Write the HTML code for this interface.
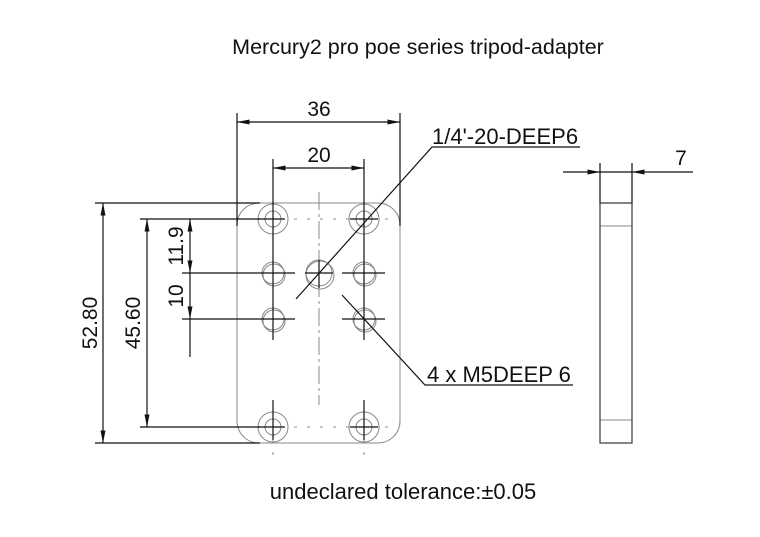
<!DOCTYPE html>
<html><head><style>body{margin:0;background:#fff}svg{display:block}text{font-family:"Liberation Sans",sans-serif;fill:#111}</style></head><body>
<svg width="760" height="537" viewBox="0 0 760 537" xmlns="http://www.w3.org/2000/svg">
<defs>
<marker id="a" viewBox="0 0 10 4" refX="10" refY="2" markerWidth="14" markerHeight="5" markerUnits="userSpaceOnUse" orient="auto-start-reverse"><path d="M0,0L10,2L0,4z" fill="#111"/></marker>
</defs>
<text x="418" y="54" font-size="21.5" text-anchor="middle">Mercury2 pro poe series tripod-adapter</text>
<text x="403" y="499" font-size="22" text-anchor="middle">undeclared tolerance:±0.05</text>
<g stroke="#888" stroke-width="1" fill="none">
<rect x="237" y="203" width="163" height="240" rx="22"/>
<line x1="600" y1="226" x2="632" y2="226"/><line x1="600" y1="420" x2="632" y2="420"/>
<line x1="319" y1="192" x2="319" y2="405" stroke-dasharray="18,4,3,4"/>
<g stroke-dasharray="3,10">
<line x1="273" y1="400" x2="273" y2="455"/><line x1="364" y1="400" x2="364" y2="455"/>
<line x1="255" y1="219" x2="390" y2="219"/><line x1="255" y1="427" x2="390" y2="427"/>
</g>
<circle cx="273" cy="219" r="15"/><circle cx="273" cy="219" r="8"/>
<circle cx="364" cy="219" r="15"/><circle cx="364" cy="219" r="8"/>
<circle cx="273" cy="427" r="15"/><circle cx="273" cy="427" r="8"/>
<circle cx="364" cy="427" r="15"/><circle cx="364" cy="427" r="8"/>
<circle cx="273" cy="273" r="11"/><circle cx="274" cy="275" r="11"/>
<circle cx="364" cy="273" r="11"/><circle cx="365" cy="275" r="11"/>
<circle cx="273" cy="319" r="11"/><circle cx="274" cy="321" r="11"/>
<circle cx="364" cy="319" r="11"/><circle cx="365" cy="321" r="11"/>
<circle cx="319" cy="273" r="13"/><circle cx="320" cy="275" r="14"/>
</g>
<rect x="600" y="203" width="32" height="240" stroke="#444" stroke-width="1.3" fill="none"/>
<g stroke="#111" stroke-width="1.2" fill="none">
<line x1="237" y1="113" x2="237" y2="226"/><line x1="400" y1="113" x2="400" y2="226"/>
<line x1="237" y1="122" x2="400" y2="122" marker-start="url(#a)" marker-end="url(#a)"/>
<line x1="273" y1="159" x2="273" y2="340"/><line x1="364" y1="159" x2="364" y2="340"/>
<line x1="273" y1="168" x2="364" y2="168" marker-start="url(#a)" marker-end="url(#a)"/>
<line x1="273" y1="400" x2="273" y2="440"/><line x1="364" y1="400" x2="364" y2="440"/>
<line x1="258" y1="219" x2="285" y2="219"/><line x1="350" y1="219" x2="378" y2="219"/>
<line x1="258" y1="427" x2="285" y2="427"/><line x1="350" y1="427" x2="378" y2="427"/>
<line x1="95" y1="203" x2="260" y2="203"/><line x1="95" y1="443" x2="260" y2="443"/>
<line x1="103" y1="203" x2="103" y2="443" marker-start="url(#a)" marker-end="url(#a)"/>
<line x1="140" y1="219" x2="260" y2="219"/><line x1="140" y1="427" x2="260" y2="427"/>
<line x1="147" y1="219" x2="147" y2="427" marker-start="url(#a)" marker-end="url(#a)"/>
<line x1="182" y1="273" x2="295" y2="273"/><line x1="182" y1="319" x2="295" y2="319"/>
<line x1="342" y1="273" x2="385" y2="273"/><line x1="342" y1="319" x2="385" y2="319"/>
<line x1="305" y1="273" x2="333" y2="273"/><line x1="319" y1="260" x2="319" y2="288"/>
<line x1="190" y1="219" x2="190" y2="273" marker-start="url(#a)" marker-end="url(#a)"/>
<line x1="190" y1="273" x2="190" y2="319" marker-end="url(#a)"/>
<line x1="190" y1="319" x2="190" y2="357"/>
<polyline points="296,299 432,147 580,147"/>
<polyline points="342,295 425,385 573,385"/>
<line x1="600" y1="163" x2="600" y2="203"/><line x1="632" y1="163" x2="632" y2="203"/>
<line x1="563" y1="172" x2="600" y2="172" marker-end="url(#a)"/>
<line x1="693" y1="172" x2="632" y2="172" marker-end="url(#a)"/>
<line x1="600" y1="172" x2="632" y2="172"/>
</g>
<text x="319" y="116" font-size="21" text-anchor="middle">36</text>
<text x="319" y="162" font-size="21" text-anchor="middle">20</text>
<text x="432" y="144" font-size="22">1/4'-20-DEEP6</text>
<text x="427" y="382" font-size="22">4 x M5DEEP 6</text>
<text x="681" y="165" font-size="21" text-anchor="middle">7</text>
<text transform="translate(97,323) rotate(-90)" font-size="21" text-anchor="middle">52.80</text>
<text transform="translate(140,323) rotate(-90)" font-size="21" text-anchor="middle">45.60</text>
<text transform="translate(183,246) rotate(-90)" font-size="21" text-anchor="middle">11.9</text>
<text transform="translate(183,296) rotate(-90)" font-size="21" text-anchor="middle">10</text>
</svg>
</body></html>
